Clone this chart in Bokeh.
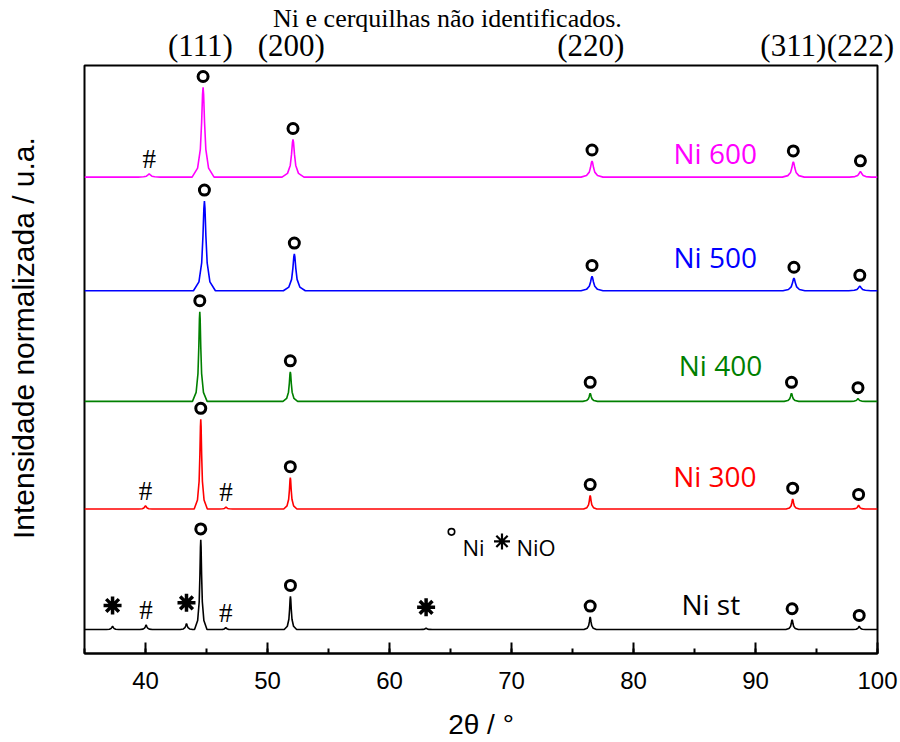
import math
from bokeh.plotting import figure
from bokeh.layouts import row
from bokeh.models import Range1d, SingleIntervalTicker, FixedTicker, LinearAxis
from bokeh.core.properties import value
from bokeh.embed import file_html
from bokeh.resources import INLINE

# ---------------- data ----------------
# normalized intensity: strongest Ni(111) peak = 100, traces stacked by offset
series_names = ["Ni st", "Ni 300", "Ni 400", "Ni 500", "Ni 600"]
series_colors = ["#000000", "#FF0000", "#008000", "#0000FF", "#FF00FF"]
series_offset = [26.7, 161.1, 281.1, 404.4, 531.1]
series_fwhm = [0.17, 0.18, 0.2, 0.3, 0.3]

ni_st_pos = [37.3, 40.05, 43.36, 44.53, 46.58, 51.88, 63.0, 76.45, 93.0, 98.5]
ni_st_h = [3.5, 5.0, 6.5, 100, 2.0, 37, 1.5, 14, 11, 3.5]
ni_st_phase = ["NiO", "#", "NiO", "Ni", "#", "Ni", "NiO", "Ni", "Ni", "Ni"]

ni300_pos = [40.0, 44.53, 46.6, 51.87, 76.45, 93.05, 98.45]
ni300_h = [3.5, 100, 2.0, 35, 15, 11, 4]
ni300_phase = ["#", "Ni", "#", "Ni", "Ni", "Ni", "Ni"]

ni400_pos = [44.45, 51.87, 76.45, 92.95, 98.4]
ni400_h = [100, 33, 9, 9, 3]
ni400_phase = ["Ni", "Ni", "Ni", "Ni", "Ni"]

ni500_pos = [44.83, 52.2, 76.6, 93.15, 98.55]
ni500_h = [100, 41, 16, 14, 5]
ni500_phase = ["Ni", "Ni", "Ni", "Ni", "Ni"]

ni600_pos = [40.3, 44.72, 52.09, 76.6, 93.1, 98.6]
ni600_h = [3.5, 100, 42, 18, 17, 6]
ni600_phase = ["#", "Ni", "Ni", "Ni", "Ni", "Ni"]

miller_pos = [44.5, 51.95, 76.5, 93.1, 98.6]
miller_labels = ["(111)", "(200)", "(220)", "(311)", "(222)"]

top_note = "Ni e cerquilhas não identificados."
x_title = "2θ / °"
y_title = "Intensidade normalizada / u.a."
x_start, x_end = 35, 100
x_tick_interval = 10

peaks = [
    (ni_st_pos, ni_st_h, ni_st_phase),
    (ni300_pos, ni300_h, ni300_phase),
    (ni400_pos, ni400_h, ni400_phase),
    (ni500_pos, ni500_h, ni500_phase),
    (ni600_pos, ni600_h, ni600_phase),
]

# ---------------- styling / layout ----------------
PX = 0.9  # pixels per y unit
Y_END = 590 / PX
GAP_O, GAP_H, GAP_A = 11 / PX, 15 / PX, 21 / PX
SHAPE_DX = [-3, -1.5, -0.75, -0.4, -0.15, 0, 0.15, 0.4, 0.75, 1.5, 3]
SHAPE_F = [0, 0.1, 0.31, 0.61, 0.92, 1, 0.92, 0.61, 0.31, 0.1, 0]

# narrow strip on the left carrying the y-axis title
LW = 82
q = figure(width=LW, height=742, x_range=Range1d(0, LW), y_range=Range1d(0, 742),
           output_backend="svg", toolbar_location=None, title=None,
           x_axis_location=None, y_axis_location=None,
           min_border_left=0, min_border_right=0, min_border_top=0, min_border_bottom=0)
q.xgrid.visible = False
q.ygrid.visible = False
q.outline_line_color = None
q.background_fill_color = "white"
q.border_fill_color = "white"
q.text([23], [742 - 344], text=[y_title], angle=math.pi / 2, text_font=value("Liberation Sans"),
       text_font_size="30px", text_align="center", text_baseline="middle", text_color="black")

p = figure(width=900 - LW, height=742, x_range=Range1d(x_start, x_end), y_range=Range1d(0, Y_END),
           output_backend="svg", toolbar_location=None, title=None, y_axis_location=None,
           min_border_left=2, min_border_right=23, min_border_top=64, min_border_bottom=88)
p.xgrid.visible = False
p.ygrid.visible = False
p.outline_line_color = "black"
p.outline_line_width = 2
p.background_fill_color = "white"
p.border_fill_color = "white"

ax = p.xaxis[0]
ax.ticker = SingleIntervalTicker(interval=x_tick_interval, num_minor_ticks=2)
ax.major_tick_in = 11
ax.major_tick_out = 0
ax.minor_tick_in = 5
ax.minor_tick_out = 0
ax.major_tick_line_width = 2
ax.minor_tick_line_width = 2
ax.axis_line_width = 2
ax.major_label_text_font = "Liberation Sans"
ax.major_label_text_font_size = "24px"
ax.major_label_text_color = "black"
ax.major_label_standoff = 18
ax.axis_label = x_title
ax.axis_label_text_font = "Liberation Sans"
ax.axis_label_text_font_size = "28px"
ax.axis_label_text_font_style = "normal"
ax.axis_label_text_color = "black"
ax.axis_label_standoff = 17

# Miller indices (above axis, nearest to frame) and the note above them
miller_axis = LinearAxis(ticker=FixedTicker(ticks=miller_pos),
                         major_label_overrides={float(k): v for k, v in zip(miller_pos, miller_labels)})
note_axis = LinearAxis(ticker=FixedTicker(ticks=[64.75]), major_label_overrides={64.75: top_note})
for a, fs, so in ((miller_axis, "31px", 3), (note_axis, "26px", -8)):
    a.axis_line_color = None
    a.major_tick_line_color = None
    a.minor_tick_line_color = None
    a.major_tick_in = 0
    a.major_tick_out = 0
    a.minor_tick_in = 0
    a.minor_tick_out = 0
    a.major_label_text_font = "Liberation Serif"
    a.major_label_text_font_size = fs
    a.major_label_text_color = "black"
    a.major_label_standoff = so
p.add_layout(miller_axis, "above")
p.add_layout(note_axis, "above")

circ_x, circ_y, hash_x, hash_y, ast_x, ast_y = [], [], [], [], [], []
for (pos, hts, ph), off, w, col in zip(peaks, series_offset, series_fwhm, series_colors):
    xs, ys = [x_start], [off]
    for c, h in sorted(zip(pos, hts)):
        for dx, f in zip(SHAPE_DX, SHAPE_F):
            xs.append(c + dx * w)
            ys.append(off + f * h)
    xs.append(x_end)
    ys.append(off)
    p.line(xs, ys, line_color=col, line_width=1.6)
    for c, h, k in zip(pos, hts, ph):
        top = off + h
        if k == "Ni":
            circ_x.append(c); circ_y.append(top + GAP_O)
        elif k == "#":
            hash_x.append(c); hash_y.append(top + GAP_H)
        else:
            ast_x.append(c); ast_y.append(top + GAP_A)

p.scatter(circ_x, circ_y, marker="circle", size=10, fill_color=None, line_color="black", line_width=3)
p.scatter(ast_x, ast_y, marker="asterisk", size=18, line_color="black", line_width=3.5)
p.text(hash_x, hash_y, text=["#"] * len(hash_x), text_font=value("Liberation Serif"),
       text_font_size="27px", text_align="center", text_baseline="middle", text_color="black")

# series labels (left edge, vertical centre of capitals)
lab_x = [83.93, 83.25, 83.71, 83.28, 83.28]
lab_y = [55.5, 197.8, 321.1, 442.2, 557.8]
p.text(lab_x, lab_y, text=series_names, text_color=series_colors, text_font=value("Open Sans"),
       text_font_size="28px", text_align="left", text_baseline="middle")

# phase key
p.scatter([65.08], [135.6], marker="circle", size=6.5, fill_color=None, line_color="black", line_width=1.6)
p.scatter([69.22], [125.0], marker="asterisk", size=16, line_color="black", line_width=2.2)
p.text([65.98, 70.41], [118.3, 118.3], text=["Ni", "NiO"], text_font=value("Open Sans"),
       text_font_size="22px", text_align="left", text_baseline="middle", text_color="black")

layout = row(q, p)
open("out.html", "w").write(file_html(layout, INLINE))
